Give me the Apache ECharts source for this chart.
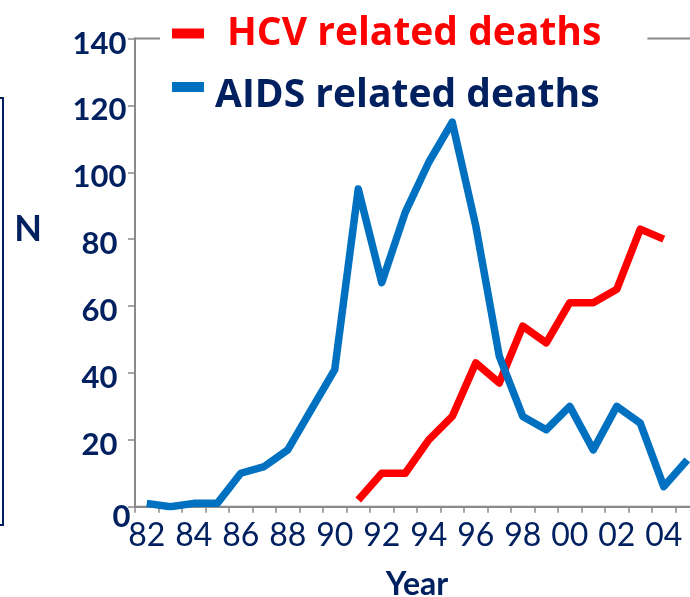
<!DOCTYPE html>
<html>
<head>
<meta charset="utf-8">
<script src="https://cdn.jsdelivr.net/npm/echarts@6/dist/echarts.min.js"></script>
<style>
html,body{margin:0;padding:0;background:#fff;}
#chart{width:690px;height:597px;}
</style>
</head>
<body>
<div id="chart"></div>
<script>
const years = ['82','83','84','85','86','87','88','89','90','91','92','93','94','95','96','97','98','99','00','01','02','03','04','05'];
const hcvDeaths = [null,null,null,null,null,null,null,null,null,2,10,10,20,27,43,37,54,49,61,61,65,83,80,null];
const aidsDeaths = [1,0,1,1,10,12,17,29,41,95,67,88,103,115,84,45,27,23,30,17,30,25,6,14];
const yTicks = [0,20,40,60,80,100,120,140];

const navy = '#002060';
const axisGray = '#898989';
const FONT = 'Lato';
const LFONT = 'Open Sans';

const chart = echarts.init(document.getElementById('chart'));
chart.setOption({
  animation: false,
  backgroundColor: '#fff',
  textStyle: { fontFamily: FONT },
  grid: {
    left: 135, top: 38.5, width: 564, height: 468.2,
    outerBoundsMode: 'none',
    containLabel: false,
    show: true, borderColor: axisGray, borderWidth: 2, backgroundColor: 'transparent'
  },
  graphic: [{
    type: 'rect',
    shape: { x: -10, y: 98, width: 13, height: 427 },
    style: { fill: 'none', stroke: navy, lineWidth: 2 }
  }],
  legend: {
    orient: 'vertical',
    left: 160, top: 0,
    padding: [14, 46, 2, 12],
    backgroundColor: '#fff',
    itemWidth: 32, itemHeight: 10, itemGap: 6,
    icon: 'rect',
    data: ['HCV related deaths', 'AIDS related deaths'],
    formatter: function (name) {
      return name === 'HCV related deaths' ? '{h|' + name + '}' : '{a|' + name + '}';
    },
    textStyle: {
      rich: {
        h: { color: '#FF0000', fontSize: 39, fontWeight: 'bold', fontFamily: LFONT, lineHeight: 46, padding: [0, 0, 0, 18] },
        a: { color: navy, fontSize: 39, fontWeight: 'bold', fontFamily: LFONT, lineHeight: 46, padding: [17, 0, 0, 6] }
      }
    }
  },
  xAxis: {
    type: 'category',
    data: years,
    boundaryGap: true,
    name: 'Year',
    nameLocation: 'middle',
    nameGap: 62,
    nameTextStyle: { color: navy, fontSize: 32, fontWeight: 'bold', fontFamily: FONT },
    axisLine: { lineStyle: { color: axisGray, width: 2 } },
    axisTick: { show: true, interval: 0, length: 6, lineStyle: { color: axisGray, width: 1.5 } },
    axisLabel: { interval: 1, color: navy, fontSize: 32, fontFamily: FONT, margin: 13 },
    splitLine: { show: false }
  },
  yAxis: {
    type: 'value',
    min: 0, max: 140, interval: 20,
    name: 'N',
    nameLocation: 'middle',
    nameRotate: 0,
    nameGap: 107,
    nameTextStyle: { color: navy, fontSize: 36, fontWeight: 'bold', fontFamily: FONT, align: 'center', verticalAlign: 'bottom', lineHeight: 86 },
    axisLine: { show: true, lineStyle: { color: axisGray, width: 2 } },
    axisTick: { show: true, length: 7, lineStyle: { color: axisGray, width: 1.5 } },
    splitLine: { show: false },
    axisLabel: {
      align: 'center',
      margin: 35.5,
      formatter: function (v) { return v === 0 ? '{z|0}' : '{n|' + v + '}'; },
      rich: {
        n: { color: navy, fontSize: 31, fontWeight: 'bold', fontFamily: FONT, padding: [10, 0, 0, 0] },
        z: { color: navy, fontSize: 31, fontWeight: 'bold', fontFamily: FONT, padding: [20, 0, 0, 44] }
      }
    }
  },
  series: [
    {
      name: 'HCV related deaths', type: 'line', data: hcvDeaths,
      symbol: 'none', color: '#FF0000',
      lineStyle: { color: '#FF0000', width: 7.5, join: 'round' }
    },
    {
      name: 'AIDS related deaths', type: 'line', data: aidsDeaths,
      symbol: 'none', color: '#0070C0',
      lineStyle: { color: '#0070C0', width: 7.5, join: 'round' }
    }
  ]
});
</script>
</body>
</html>
